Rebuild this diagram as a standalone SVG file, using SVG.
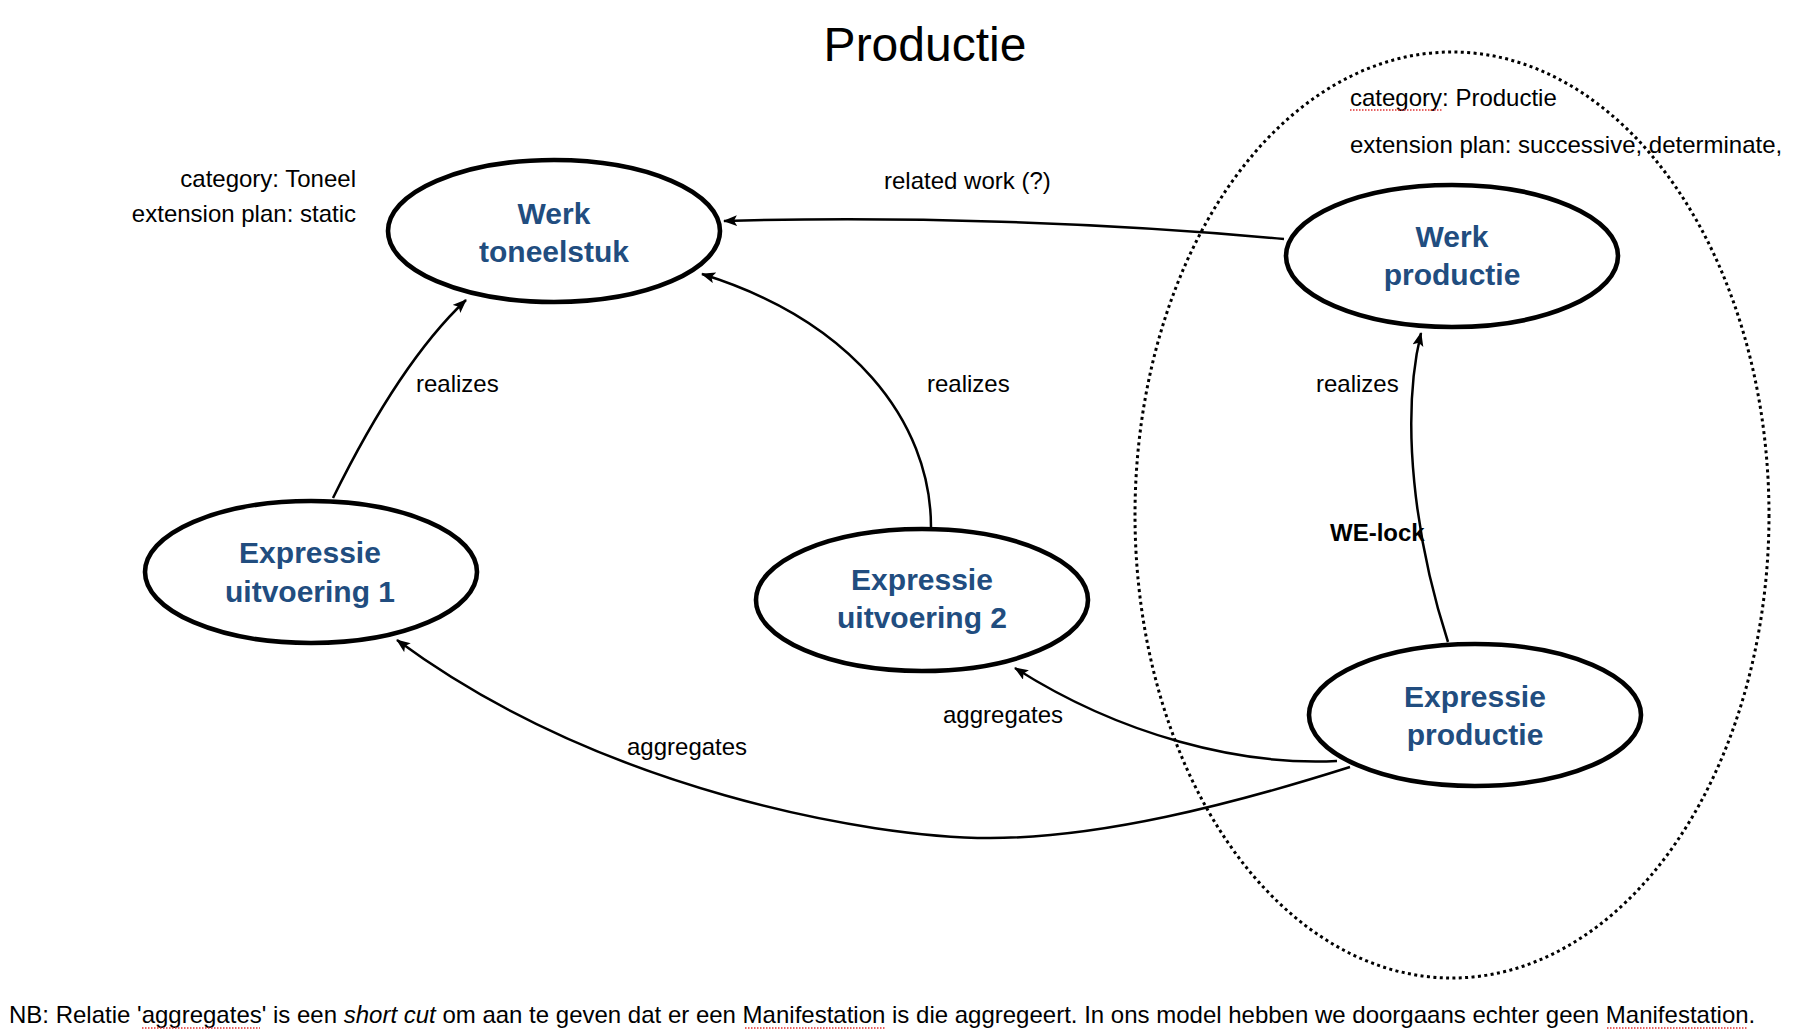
<svg xmlns="http://www.w3.org/2000/svg" width="1796" height="1036" viewBox="0 0 1796 1036">
<style>
  .node { fill: #ffffff; stroke: #000000; stroke-width: 4.6; }
  .nl { font-family: "Liberation Sans", Arial, sans-serif; font-size: 30px; font-weight: bold; fill: #214D7F; text-anchor: middle; }
  .lbl { font-family: "Liberation Sans", Arial, sans-serif; font-size: 24px; fill: #000000; }
  .bold { font-weight: bold; }
  .edge { fill: none; stroke: #000000; stroke-width: 2.5; marker-end: url(#arr); }
  .spell { stroke: #e03030; stroke-width: 1.5; stroke-dasharray: 1.5 1.5; fill: none; }
</style>
<defs>
  <marker id="arr" markerUnits="userSpaceOnUse" markerWidth="16" markerHeight="12" refX="13" refY="5.5" orient="auto">
    <path d="M0,0 L14,5.5 L0,11 L3,5.5 z" fill="#000000"/>
  </marker>
</defs>
<rect width="1796" height="1036" fill="#ffffff"/>

<text x="925" y="61" font-family="Liberation Sans, Arial, sans-serif" font-size="48" text-anchor="middle" fill="#000000">Productie</text>

<ellipse id="scope" cx="1452" cy="515" rx="317" ry="463" fill="none" stroke="#000000" stroke-width="3" stroke-dasharray="3 3.4"/>

<g id="connectors">
  <path class="edge" d="M1284,239 C1100,222 900,216 724,221"/>
  <path class="edge" d="M333,498 Q400,362 466,300"/>
  <path class="edge" d="M931,527 C931,420 850,320 702,274"/>
  <path class="edge" d="M1448,642 C1415,540 1400,420 1421,333"/>
  <path class="edge" d="M1337,761 C1240,766 1120,735 1015,668"/>
  <path class="edge" d="M1350,767 C1230,805 1100,838 990,838 C870,838 600,790 397,640"/>
</g>

<g id="labels">
  <text class="lbl" x="884" y="189">related work (?)</text>
  <text class="lbl" x="416" y="392">realizes</text>
  <text class="lbl" x="927" y="392">realizes</text>
  <text class="lbl" x="1316" y="392">realizes</text>
  <text class="lbl bold" x="1330" y="541">WE-lock</text>
  <text class="lbl" x="943" y="723">aggregates</text>
  <text class="lbl" x="627" y="755">aggregates</text>
</g>

<g id="werk-toneelstuk">
  <ellipse class="node" cx="554" cy="231" rx="166" ry="71"/>
  <text class="nl" x="554" y="224">Werk</text>
  <text class="nl" x="554" y="262">toneelstuk</text>
</g>
<g id="werk-toneelstuk-notes">
  <text class="lbl" x="356" y="187" text-anchor="end">category: Toneel</text>
  <text class="lbl" x="356" y="222" text-anchor="end">extension plan: static</text>
</g>

<g id="werk-productie">
  <ellipse class="node" cx="1452" cy="256" rx="166" ry="71"/>
  <text class="nl" x="1452" y="247">Werk</text>
  <text class="nl" x="1452" y="285">productie</text>
</g>
<g id="werk-productie-notes">
  <text class="lbl" x="1350" y="106">category: Productie</text>
  <path class="spell" d="M1350,110 H1443"/>
  <text class="lbl" x="1350" y="153">extension plan: successive, determinate,</text>
</g>

<g id="expressie-uitvoering-1">
  <ellipse class="node" cx="311" cy="572" rx="166" ry="71"/>
  <text class="nl" x="310" y="563">Expressie</text>
  <text class="nl" x="310" y="602">uitvoering 1</text>
</g>

<g id="expressie-uitvoering-2">
  <ellipse class="node" cx="922" cy="600" rx="166" ry="71"/>
  <text class="nl" x="922" y="590">Expressie</text>
  <text class="nl" x="922" y="628">uitvoering 2</text>
</g>

<g id="expressie-productie">
  <ellipse class="node" cx="1475" cy="715" rx="166" ry="71"/>
  <text class="nl" x="1475" y="707">Expressie</text>
  <text class="nl" x="1475" y="745">productie</text>
</g>

<g id="note">
  <text class="lbl" x="9" y="1023">NB: Relatie 'aggregates' is een <tspan font-style="italic">short cut</tspan> om aan te geven dat er een Manifestation is die aggregeert. In ons model hebben we doorgaans echter geen Manifestation.</text>
  <path class="spell" d="M142,1028 H260"/>
  <path class="spell" d="M745,1028 H885"/>
  <path class="spell" d="M1607,1028 H1748"/>
</g>
</svg>
